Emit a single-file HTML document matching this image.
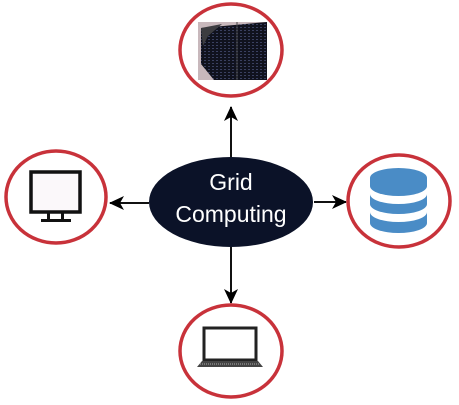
<!DOCTYPE html>
<html><head><style>html,body{margin:0;padding:0;background:#fff}</style></head>
<body>
<svg width="459" height="400" xmlns="http://www.w3.org/2000/svg">
<defs>
<marker id="a" markerWidth="16" markerHeight="16" refX="14" refY="7" orient="auto" markerUnits="userSpaceOnUse">
<path d="M0,0 L15,7 L0,14 L4,7 Z" fill="#000"/></marker>
<pattern id="srv" width="4" height="3" patternUnits="userSpaceOnUse"><rect width="4" height="3" fill="#10121e"/><rect width="2" height="1" fill="#3a4060"/></pattern>
</defs>
<g stroke="#111" stroke-width="2" fill="none">
<line x1="231" y1="157" x2="231" y2="107" marker-end="url(#a)"/>
<line x1="231" y1="247" x2="231" y2="303" marker-end="url(#a)"/>
<line x1="149" y1="203" x2="110" y2="203" marker-end="url(#a)"/>
<line x1="314" y1="202" x2="346" y2="202" marker-end="url(#a)"/>
</g>
<ellipse cx="231" cy="202" rx="82" ry="45" fill="#0b1228"/>
<text x="231" y="190" font-family="Liberation Sans, sans-serif" font-size="23" fill="#fff" text-anchor="middle">Grid</text>
<text x="231" y="222" font-family="Liberation Sans, sans-serif" font-size="23" fill="#fff" text-anchor="middle">Computing</text>
<g fill="none" stroke="#c8323a" stroke-width="3.5">
<ellipse cx="231" cy="50" rx="51" ry="46"/>
<ellipse cx="231" cy="351" rx="51" ry="46"/>
<ellipse cx="56" cy="197" rx="50" ry="46"/>
<ellipse cx="399" cy="201" rx="51" ry="46"/>
</g>
<!-- server image -->
<rect x="198" y="22" width="69" height="58" fill="#c8b8bc"/>
<polygon points="201,28 267,22 267,80 214,80 201,64" fill="url(#srv)"/>
<polygon points="201,28 222,24 208,36 203,46" fill="#3c3c40"/>
<line x1="237" y1="22" x2="237" y2="80" stroke="#444" stroke-width="1"/>
<!-- monitor -->
<rect x="31" y="172" width="49" height="40" fill="#fbf8fa" stroke="#111" stroke-width="3.5"/>
<rect x="47" y="213" width="3" height="6" fill="#111"/><rect x="61" y="213" width="3" height="6" fill="#111"/>
<rect x="41" y="219" width="30" height="3" fill="#111"/>
<!-- database -->
<g fill="#4a8cc6">
<path d="M370,178 a28.5,10 0 0 1 57,0 v8 a28.5,10 0 0 1 -57,0 Z"/>
<path d="M370,194 a28.5,10 0 0 0 57,0 v10 a28.5,10 0 0 1 -57,0 Z"/>
<path d="M370,212 a28.5,10 0 0 0 57,0 v11 a28.5,10 0 0 1 -57,0 Z"/>
</g>
<!-- laptop -->
<rect x="204" y="328" width="52" height="32" fill="#fff" stroke="#222" stroke-width="3"/>
<polygon points="202,361 258,361 263,367 197,367" fill="#444"/>
<line x1="200" y1="364" x2="260" y2="364" stroke="#aaa" stroke-width="1" stroke-dasharray="1,1"/>
</svg>
</body></html>
